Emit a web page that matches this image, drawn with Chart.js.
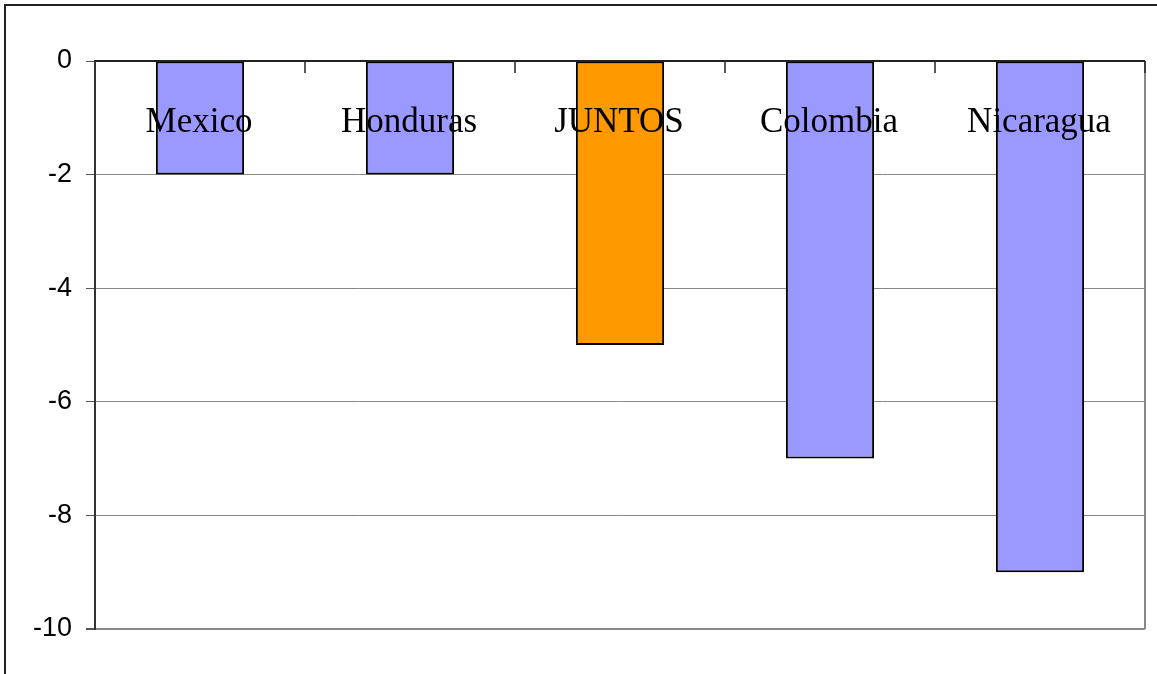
<!DOCTYPE html>
<html>
<head>
<meta charset="utf-8">
<script src="https://cdn.jsdelivr.net/npm/chart.js@4/dist/chart.umd.min.js"></script>
<style>
  html, body { margin: 0; padding: 0; background: #fff; }
  #wrap { width: 1157px; height: 674px; }
</style>
</head>
<body>
<div id="wrap"><canvas id="chart" width="1157" height="674"></canvas></div>
<script>
const countries = ['Mexico', 'Honduras', 'JUNTOS', 'Colombia', 'Nicaragua'];
const changes = [-2, -2, -5, -7, -9];
const barColors = ['#9999ff', '#9999ff', '#ff9900', '#9999ff', '#9999ff'];
const yTicks = [0, -2, -4, -6, -8, -10];

// frame, axis line at zero, category tick marks and the labels on top of the bars
const decorations = {
  id: 'decorations',
  beforeDraw(chart) {
    const ctx = chart.ctx;
    ctx.save();
    ctx.strokeStyle = '#222';
    ctx.lineWidth = 2;
    ctx.beginPath();
    ctx.moveTo(5, chart.height);
    ctx.lineTo(5, 5);
    ctx.lineTo(chart.width, 5);
    ctx.stroke();
    ctx.restore();
  },
  afterDatasetsDraw(chart) {
    const ctx = chart.ctx;
    const area = chart.chartArea;
    const x = chart.scales.x;
    const y = chart.scales.y;
    const zero = y.getPixelForValue(0);
    ctx.save();
    // right edge of the plot area
    ctx.strokeStyle = '#888';
    ctx.lineWidth = 2;
    ctx.beginPath();
    ctx.moveTo(area.right, area.top);
    ctx.lineTo(area.right, area.bottom);
    ctx.stroke();
    // zero line and tick marks between categories
    ctx.strokeStyle = '#222';
    ctx.lineWidth = 2;
    ctx.beginPath();
    ctx.moveTo(area.left, zero);
    ctx.lineTo(area.right, zero);
    ctx.stroke();
    const step = x.getPixelForValue(1) - x.getPixelForValue(0);
    ctx.lineWidth = 1.5;
    for (let i = 1; i <= countries.length; i++) {
      const px = x.getPixelForValue(i) - step / 2;
      ctx.beginPath();
      ctx.moveTo(px, zero);
      ctx.lineTo(px, zero + 12);
      ctx.stroke();
    }
    ctx.fillStyle = '#000';
    ctx.font = '35px "Liberation Serif", "Times New Roman", serif';
    ctx.textAlign = 'center';
    ctx.textBaseline = 'alphabetic';
    countries.forEach((name, i) => {
      ctx.fillText(name, x.getPixelForValue(i) - 1, zero + 71);
    });
    ctx.restore();
  }
};

new Chart(document.getElementById('chart'), {
  type: 'bar',
  data: {
    labels: countries,
    datasets: [{
      data: changes,
      backgroundColor: barColors,
      borderColor: '#000',
      borderWidth: 2,
      borderSkipped: false,
      categoryPercentage: 1,
      barPercentage: 0.42
    }]
  },
  options: {
    responsive: false,
    animation: false,
    layout: { padding: { top: 61, right: 12, bottom: 45, left: 0 } },
    plugins: { legend: { display: false }, tooltip: { enabled: false } },
    scales: {
      x: { display: false },
      y: {
        min: -10,
        max: 0,
        afterFit(scale) { scale.width = 95; },
        afterBuildTicks(scale) { scale.ticks = yTicks.map(v => ({ value: v })); },
        border: { color: '#333', width: 2 },
        grid: {
          color: '#888',
          lineWidth: ctx => (ctx.tick && ctx.tick.value === -10 ? 2 : 1),
          tickColor: '#555',
          tickLength: 9,
          drawTicks: true
        },
        ticks: {
          color: '#000',
          padding: 14,
          font: { family: '"Liberation Sans", Arial, sans-serif', size: 27 }
        }
      }
    }
  },
  plugins: [decorations]
});
</script>
</body>
</html>
